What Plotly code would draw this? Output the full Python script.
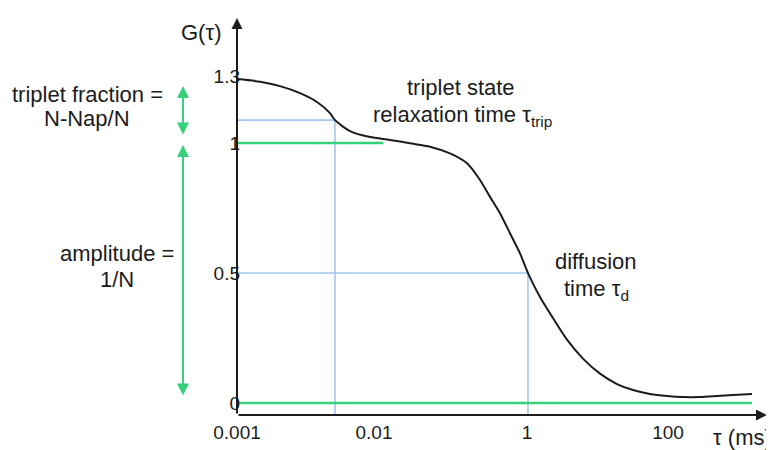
import plotly.graph_objects as go

# ---- data ----
tau_ms = [0.001, 0.001727, 0.002776, 0.004462, 0.006679, 0.009095, 0.01024, 0.014616,
          0.023499, 0.037782, 0.060742, 0.097657, 0.15701, 0.23499, 0.32009, 0.40586,
          0.51441, 0.65224, 0.82672, 1.0, 1.3298, 1.8101, 2.5245, 3.6898, 5.5245,
          8.2708, 12.09, 18.10, 27.10, 39.62, 59.32, 88.81, 129.8, 203.8]
G_tau = [1.246, 1.236, 1.219, 1.192, 1.158, 1.115, 1.088, 1.046,
         1.023, 1.012, 0.999, 0.986, 0.960, 0.922, 0.858, 0.793,
         0.730, 0.653, 0.576, 0.500, 0.408, 0.327, 0.244, 0.171, 0.113,
         0.073, 0.050, 0.035, 0.027, 0.023, 0.023, 0.027, 0.031, 0.035]

tau_trip = 0.01024         # triplet relaxation time (ms)
G_trip = 1.088             # G at tau_trip
tau_d = 1.0                # diffusion time (ms)
G_half = 0.5               # G at tau_d
plateau_G = 1.0
plateau_end_tau = 0.0320
baseline_G = 0.0
baseline_end_tau = 203.8

x_tick_vals = [0.001, 0.02585, 0.9766, 27.75]
x_tick_text = ["0.001", "0.01", "1", "100"]
y_tick_vals = [0, 0.5, 1, 1.255]
y_tick_text = ["0", "0.5", "1", "1.3"]

# ---- layout geometry (reference pixel coords; page body adds an 8px offset) ----
W, H = 774, 450
OFF = 8
L, R, T, B = 237, 767, 18, 415
X_RANGE = [-3, 2.464]
Y_RANGE = [-0.046, 1.481]
y_floor = Y_RANGE[0]
tau_min = tau_ms[0]

def px(x):
    return (x - L) / (R - L)

def py(y):
    return (B - y) / (B - T)

BLUE = "#a3c8f2"
GREEN = "#36d07c"
INK = "#1c1c1c"
FONT = "Liberation Sans, Arial, sans-serif"

fig = go.Figure()

fig.add_trace(go.Scatter(x=[tau_min, tau_trip, tau_trip], y=[G_trip, G_trip, y_floor],
                         mode="lines", line=dict(color=BLUE, width=1.6), hoverinfo="skip"))
fig.add_trace(go.Scatter(x=[tau_min, tau_d, tau_d], y=[G_half, G_half, y_floor],
                         mode="lines", line=dict(color=BLUE, width=1.6), hoverinfo="skip"))
fig.add_trace(go.Scatter(x=[tau_min, plateau_end_tau], y=[plateau_G, plateau_G],
                         mode="lines", line=dict(color=GREEN, width=2.5), hoverinfo="skip"))
fig.add_trace(go.Scatter(x=[tau_min, baseline_end_tau], y=[baseline_G, baseline_G],
                         mode="lines", line=dict(color=GREEN, width=2.5), hoverinfo="skip"))
fig.add_trace(go.Scatter(x=tau_ms, y=G_tau, mode="lines",
                         line=dict(color=INK, width=2, shape="spline", smoothing=0.7),
                         hoverinfo="skip"))

annotations = []
annotations.append(dict(xref="paper", yref="paper", x=0, y=1, ax=0, ay=B - T,
                        text="", showarrow=True, arrowhead=2, arrowsize=1.1,
                        arrowwidth=2, arrowcolor=INK))
annotations.append(dict(xref="paper", yref="paper", x=1, y=0, ax=-(R - L), ay=0,
                        text="", showarrow=True, arrowhead=2, arrowsize=1.1,
                        arrowwidth=2, arrowcolor=INK))
annotations.append(dict(xref="paper", yref="paper", x=px(183), y=py(86), ax=0, ay=136 - 86,
                        text="", showarrow=True, arrowhead=2, arrowside="end+start",
                        arrowsize=1.2, arrowwidth=2, arrowcolor=GREEN))
annotations.append(dict(xref="paper", yref="paper", x=px(183), y=py(145), ax=0, ay=397 - 145,
                        text="", showarrow=True, arrowhead=2, arrowside="end+start",
                        arrowsize=1.2, arrowwidth=2, arrowcolor=GREEN))

def label(text, x, y, size=22):
    annotations.append(dict(xref="paper", yref="paper", x=px(x), y=py(y), text=text,
                            showarrow=False, xanchor="center", yanchor="middle",
                            font=dict(family=FONT, size=size, color=INK)))

label("G(τ)", 201, 32)
label("triplet fraction =", 87, 94)
label("N-Nap/N", 87, 119)
label("amplitude =", 117, 253)
label("1/N", 117, 279)
label("triplet state", 461, 88)
label("relaxation time τ<sub>trip</sub>", 462, 116)
label("diffusion", 596, 262)
label("time τ<sub>d</sub>", 596, 290)
label("τ (ms)", 742, 437)

fig.update_layout(
    width=W, height=H,
    margin=dict(l=L - OFF, r=W - (R - OFF), t=T - OFF, b=H - (B - OFF)),
    paper_bgcolor="white", plot_bgcolor="white",
    showlegend=False,
    annotations=annotations,
    font=dict(family=FONT, color=INK),
)
fig.update_xaxes(type="log", range=X_RANGE, showgrid=False, zeroline=False, showline=False,
                 tickvals=x_tick_vals, ticktext=x_tick_text, ticks="",
                 tickfont=dict(family=FONT, size=19, color=INK), ticklabelstandoff=4)
fig.update_yaxes(range=Y_RANGE, showgrid=False, zeroline=False, showline=False,
                 tickvals=y_tick_vals, ticktext=y_tick_text, ticks="",
                 tickfont=dict(family=FONT, size=19, color=INK), ticklabelstandoff=-4)

fig.write_html("out.html")
